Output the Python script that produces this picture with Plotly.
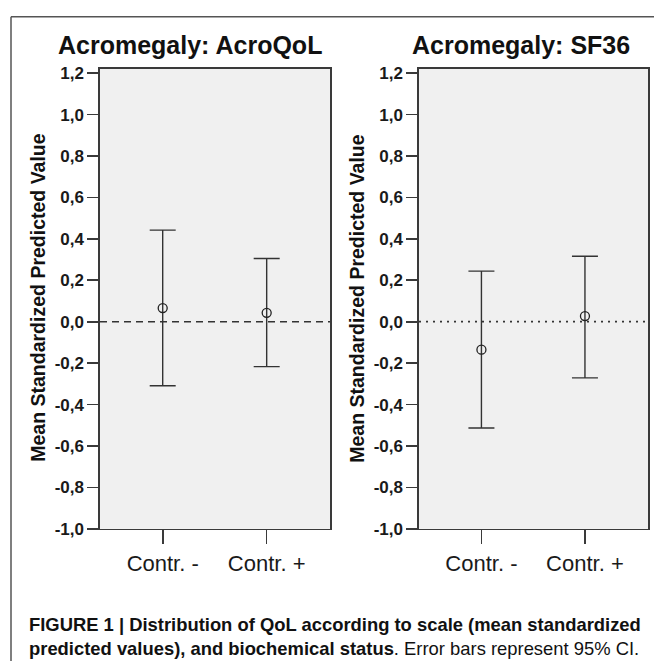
import plotly.graph_objects as go

# ---- data ----
categories = ["Contr. -", "Contr. +"]
panel_titles = ["Acromegaly: AcroQoL", "Acromegaly: SF36"]
acroqol_mean = [0.066, 0.043]
acroqol_lower = [-0.309, -0.217]
acroqol_upper = [0.442, 0.305]
sf36_mean = [-0.135, 0.027]
sf36_lower = [-0.513, -0.271]
sf36_upper = [0.244, 0.316]
y_tick_vals = [-1.0, -0.8, -0.6, -0.4, -0.2, 0.0, 0.2, 0.4, 0.6, 0.8, 1.0, 1.2]
y_tick_labels = ["-1,0", "-0,8", "-0,6", "-0,4", "-0,2", "0,0", "0,2", "0,4", "0,6", "0,8", "1,0", "1,2"]
y_title = "Mean Standardized Predicted Value"

W, H = 654, 671
AX = "#3a3a3a"
FONT = "Liberation Sans, Arial, sans-serif"

fig = go.Figure()

panels = [
    (acroqol_mean, acroqol_lower, acroqol_upper, "x", "y"),
    (sf36_mean, sf36_lower, sf36_upper, "x2", "y2"),
]
for mean, lo, up, xa, ya in panels:
    fig.add_trace(go.Scatter(
        x=categories, y=mean, mode="markers",
        xaxis=xa, yaxis=ya, showlegend=False, hoverinfo="skip",
        marker=dict(symbol="circle-open", size=9, color="#222222", line=dict(width=1.3)),
        error_y=dict(type="data", symmetric=False,
                     array=[u - m for u, m in zip(up, mean)],
                     arrayminus=[m - l for m, l in zip(mean, lo)],
                     color="#333333", thickness=1.4, width=13),
    ))

def px_x(v):
    return v / W

def px_y(v):
    return 1 - v / H

ydom = [px_y(536), px_y(66)]
common_x = dict(type="category", range=[-0.603, 1.609], showline=True, mirror=True,
                linecolor=AX, linewidth=1.6, ticks="outside", ticklen=14, tickwidth=1.6,
                tickcolor=AX, showgrid=False, zeroline=False,
                tickfont=dict(family=FONT, size=22, color="#1a1a1a"))
common_y = dict(range=[-1.0, 1.222], showline=True, mirror=True, linecolor=AX, linewidth=1.6,
                ticks="outside", ticklen=11, tickwidth=1.6, tickcolor=AX,
                tickvals=y_tick_vals, ticktext=y_tick_labels, showgrid=False, zeroline=False,
                tickfont=dict(family=FONT, size=17, color="#1a1a1a", weight="bold"),
                domain=ydom)

fig.update_layout(
    width=W, height=H,
    margin=dict(l=0, r=0, t=0, b=0),
    paper_bgcolor="white", plot_bgcolor="#f0f0f0",
    xaxis=dict(domain=[px_x(100), px_x(330)], anchor="y", **common_x),
    yaxis=dict(anchor="x", **common_y),
    xaxis2=dict(domain=[px_x(419), px_x(648)], anchor="y2", **common_x),
    yaxis2=dict(anchor="x2", **common_y),
)

shapes = [
    dict(type="line", xref="paper", yref="paper", x0=px_x(11), x1=1.0, y0=px_y(13), y1=px_y(13),
         line=dict(color="#555555", width=1.5)),
    dict(type="line", xref="paper", yref="paper", x0=px_x(11), x1=px_x(11), y0=px_y(13), y1=0,
         line=dict(color="#555555", width=1.5)),
    dict(type="line", xref="x domain", yref="y", x0=0, x1=1, y0=0, y1=0,
         line=dict(color="#333333", width=1.6, dash="7px,5px")),
    dict(type="line", xref="x2 domain", yref="y2", x0=0, x1=1, y0=0, y1=0,
         line=dict(color="#333333", width=1.8, dash="2px,5px")),
]
fig.update_layout(shapes=shapes)

ann = []
for title, cx in zip(panel_titles, [190, 521]):
    ann.append(dict(text="<b>" + title + "</b>", xref="paper", yref="paper",
                    x=px_x(cx), y=px_y(42), xanchor="center", yanchor="middle",
                    showarrow=False, font=dict(family=FONT, size=25, color="#111111")))
for cx in [38, 357]:
    ann.append(dict(text="<b>" + y_title + "</b>", xref="paper", yref="paper",
                    x=px_x(cx), y=px_y(300), xanchor="center", yanchor="middle", textangle=-90,
                    showarrow=False, font=dict(family=FONT, size=19.5, color="#111111")))

ann.append(dict(text="<b>FIGURE 1 | Distribution of QoL according to scale (mean standardized</b>",
                xref="paper", yref="paper", x=px_x(27), y=px_y(634), xanchor="left", yanchor="middle",
                showarrow=False, font=dict(family=FONT, size=18.4, color="#111111")))
ann.append(dict(text="<b>predicted values), and biochemical status</b>. Error bars represent 95% CI.",
                xref="paper", yref="paper", x=px_x(27), y=px_y(658), xanchor="left", yanchor="middle",
                showarrow=False, font=dict(family=FONT, size=18.4, color="#111111")))
fig.update_layout(annotations=ann)

fig.write_html(
    "out.html",
    config={"displayModeBar": False, "staticPlot": True},
    post_script=("document.body.style.margin='0';"
                 "document.body.style.overflow='hidden';"
                 "document.documentElement.style.overflow='hidden';"),
)
